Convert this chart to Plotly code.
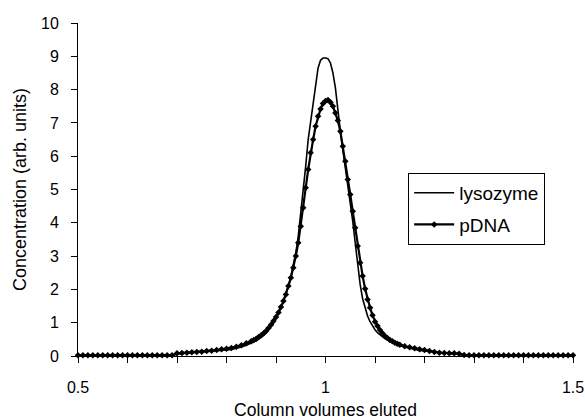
import plotly.graph_objects as go

# Column volumes eluted (x) sample positions
volumes = [
    0.50, 0.51, 0.52, 0.53, 0.54, 0.55, 0.56, 0.57, 0.58, 0.59,
    0.60, 0.61, 0.62, 0.63, 0.64, 0.65, 0.66, 0.67, 0.68, 0.69,
    0.70, 0.71, 0.72, 0.73, 0.74, 0.75, 0.76, 0.77, 0.78, 0.79,
    0.80, 0.81, 0.82, 0.83, 0.84,
    0.850, 0.855, 0.860, 0.865, 0.870, 0.875, 0.880, 0.885, 0.890, 0.895,
    0.900, 0.905, 0.910, 0.915, 0.920, 0.925, 0.930, 0.935, 0.940, 0.945,
    0.950, 0.955, 0.960, 0.965, 0.970, 0.975, 0.980, 0.985, 0.990, 0.995,
    1.000, 1.005, 1.010, 1.015, 1.020, 1.025, 1.030, 1.035, 1.040, 1.045,
    1.050, 1.055, 1.060, 1.065, 1.070, 1.075, 1.080, 1.085, 1.090, 1.095,
    1.100, 1.105, 1.110, 1.115, 1.120, 1.125, 1.130, 1.135, 1.140, 1.145,
    1.150,
    1.16, 1.17, 1.18, 1.19, 1.20, 1.21, 1.22, 1.23, 1.24, 1.25,
    1.26, 1.27, 1.28, 1.29, 1.30, 1.31, 1.32, 1.33, 1.34, 1.35,
    1.36, 1.37, 1.38, 1.39, 1.40, 1.41, 1.42, 1.43, 1.44, 1.45,
    1.46, 1.47, 1.48, 1.49, 1.50,
]

lysozyme = [
    0.01, 0.01, 0.01, 0.01, 0.01, 0.01, 0.01, 0.01, 0.01, 0.01,
    0.01, 0.01, 0.01, 0.01, 0.01, 0.01, 0.01, 0.01, 0.01, 0.01,
    0.06, 0.07, 0.08, 0.09, 0.10, 0.11, 0.12, 0.13, 0.15, 0.16,
    0.18, 0.20, 0.23, 0.27, 0.32,
    0.38, 0.42, 0.46, 0.51, 0.56, 0.62, 0.69, 0.78, 0.88, 0.99,
    1.12, 1.27, 1.44, 1.64, 1.86, 2.10, 2.38, 2.70, 3.10, 3.60,
    4.25, 4.95, 5.70, 6.50, 7.05, 7.60, 8.15, 8.65, 8.88, 8.95,
    8.95, 8.93, 8.80, 8.50, 8.05, 7.35, 6.75, 6.20, 5.70, 5.20,
    4.65, 4.05, 3.40, 2.70, 2.15, 1.72, 1.42, 1.20, 1.03, 0.90,
    0.79, 0.70, 0.63, 0.57, 0.52, 0.48, 0.44, 0.41, 0.38, 0.35,
    0.31,
    0.27, 0.23, 0.20, 0.17, 0.15, 0.13, 0.11, 0.10, 0.09, 0.08,
    0.07, 0.06, 0.02, 0.01, 0.01, 0.01, 0.01, 0.01, 0.01, 0.01,
    0.01, 0.01, 0.01, 0.01, 0.01, 0.01, 0.01, 0.01, 0.01, 0.01,
    0.01, 0.01, 0.01, 0.01, 0.01,
]

pdna = [
    0.02, 0.02, 0.02, 0.02, 0.02, 0.02, 0.02, 0.02, 0.02, 0.02,
    0.02, 0.02, 0.02, 0.02, 0.02, 0.02, 0.02, 0.02, 0.02, 0.02,
    0.08, 0.09, 0.10, 0.11, 0.12, 0.13, 0.15, 0.16, 0.18, 0.20,
    0.22, 0.24, 0.28, 0.32, 0.38,
    0.44, 0.48, 0.52, 0.57, 0.62, 0.68, 0.75, 0.84, 0.94, 1.05,
    1.17, 1.31, 1.47, 1.65, 1.85, 2.10, 2.35, 2.65, 3.00, 3.40,
    3.90, 4.45, 5.05, 5.60, 6.10, 6.50, 6.90, 7.20, 7.42, 7.58,
    7.66, 7.69, 7.62, 7.50, 7.30, 7.07, 6.75, 6.30, 5.85, 5.30,
    4.85, 4.35, 3.85, 3.30, 2.80, 2.40, 2.02, 1.70, 1.45, 1.22,
    1.03, 0.90, 0.78, 0.68, 0.60, 0.54, 0.48, 0.44, 0.40, 0.37,
    0.34,
    0.29, 0.26, 0.23, 0.20, 0.18, 0.15, 0.12, 0.10, 0.09, 0.08,
    0.08, 0.07, 0.03, 0.02, 0.02, 0.02, 0.02, 0.02, 0.02, 0.02,
    0.02, 0.02, 0.02, 0.02, 0.02, 0.02, 0.02, 0.02, 0.02, 0.02,
    0.02, 0.02, 0.02, 0.02, 0.02,
]

x_tickvals = [0.5, 0.6, 0.7, 0.8, 0.9, 1.0, 1.1, 1.2, 1.3, 1.4, 1.5]
x_ticktext = ["0.5", "", "", "", "", "1", "", "", "", "", "1.5"]
y_tickvals = [0, 1, 2, 3, 4, 5, 6, 7, 8, 9, 10]

FONT = "Liberation Sans, Arial, sans-serif"

fig = go.Figure()
fig.add_trace(go.Scatter(
    x=volumes, y=lysozyme, name="lysozyme", mode="lines", legendgroup="a",
    line=dict(color="black", width=1.6), cliponaxis=False,
))
fig.add_trace(go.Scatter(
    x=volumes, y=pdna, name="pDNA", mode="lines+markers", legendgroup="b",
    line=dict(color="black", width=2.2),
    marker=dict(symbol="diamond", size=5, color="black"),
    cliponaxis=False,
))

fig.update_layout(
    width=585, height=420,
    margin=dict(l=78, r=12, t=23, b=64),
    paper_bgcolor="white", plot_bgcolor="white",
    font=dict(family=FONT, size=16, color="black"),
    showlegend=True,
    legend=dict(
        x=0.667, y=0.55, xanchor="left", yanchor="top",
        bordercolor="black", borderwidth=1, bgcolor="white",
        font=dict(family=FONT, size=19, color="black"),
        tracegroupgap=4, itemwidth=40,
    ),
    xaxis=dict(
        range=[0.5, 1.5], showgrid=False, zeroline=False, automargin=False,
        showline=True, linecolor="black", linewidth=1,
        ticks="outside", ticklen=6, tickcolor="black", tickwidth=1,
        tickvals=x_tickvals, ticktext=x_ticktext,
        ticklabelstandoff=11,
        title=dict(text="Column volumes eluted", font=dict(size=17.5), standoff=8),
    ),
    yaxis=dict(
        range=[0, 10], showgrid=False, zeroline=False, automargin=False,
        showline=True, linecolor="black", linewidth=1,
        ticks="outside", ticklen=6, tickcolor="black", tickwidth=1,
        tickvals=y_tickvals, ticklabelstandoff=9,
        title=dict(text="Concentration (arb. units)", font=dict(size=18), standoff=9),
    ),
)

fig.write_html("out.html")
